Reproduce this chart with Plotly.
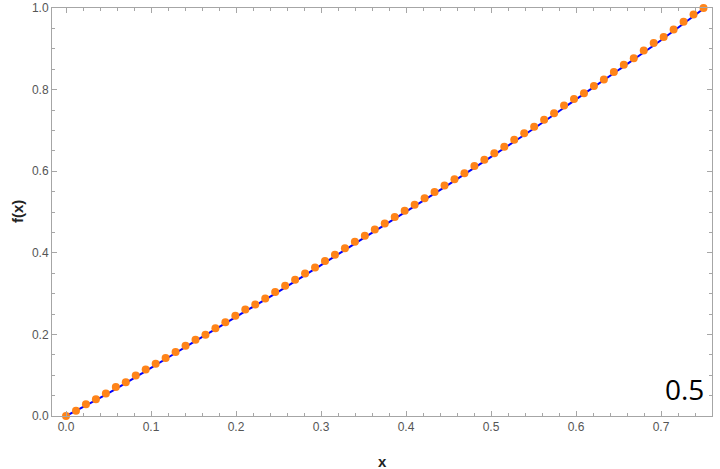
import plotly.graph_objects as go

# sampled points (orange dots)
dot_x = [i * 0.75 / 64 for i in range(65)]
dot_y = [
    0.000, 0.013, 0.029, 0.041, 0.055, 0.071, 0.083, 0.099, 0.114, 0.128,
    0.142, 0.157, 0.172, 0.187, 0.199, 0.215, 0.230, 0.246, 0.261, 0.273,
    0.288, 0.304, 0.319, 0.334, 0.349, 0.364, 0.380, 0.395, 0.411, 0.427,
    0.442, 0.457, 0.472, 0.488, 0.503, 0.518, 0.534, 0.549, 0.565, 0.580,
    0.595, 0.613, 0.628, 0.644, 0.660, 0.677, 0.693, 0.709, 0.726, 0.742,
    0.761, 0.777, 0.791, 0.809, 0.825, 0.843, 0.861, 0.877, 0.896, 0.914,
    0.929, 0.947, 0.966, 0.984, 1.000,
]

# reference curve (blue line)
line_x = [0.00, 0.05, 0.10, 0.15, 0.20, 0.25, 0.30, 0.35,
          0.40, 0.45, 0.50, 0.55, 0.60, 0.65, 0.70, 0.75]
line_y = [0.000, 0.056, 0.118, 0.181, 0.243, 0.305, 0.370, 0.436,
          0.501, 0.567, 0.635, 0.704, 0.776, 0.848, 0.921, 0.998]

label = "0.5"

fig = go.Figure()
fig.add_trace(go.Scatter(
    x=line_x, y=line_y, mode="lines",
    line={"color": "#0000FF", "width": 2, "shape": "spline"},
    cliponaxis=False, showlegend=False,
))
fig.add_trace(go.Scatter(
    x=dot_x, y=dot_y, mode="markers",
    marker={"color": "#FF8419", "size": 8},
    cliponaxis=False, showlegend=False,
))

axis_common = dict(
    showline=True, linecolor="#A6A6A6", linewidth=1, mirror="ticks",
    ticks="inside", ticklen=5, tickcolor="#A6A6A6", tickwidth=1,
    showgrid=False, zeroline=False, automargin=False,
    tickfont={"family": "Liberation Sans, Arial", "size": 12, "color": "#555555"},
)

fig.update_xaxes(
    range=[-0.0165, 0.76], tick0=0, dtick=0.1, tickformat=".1f",
    minor={"ticks": "inside", "ticklen": 3, "dtick": 0.02, "tick0": 0, "tickcolor": "#A6A6A6"},
    **axis_common,
)
fig.update_yaxes(
    range=[0, 1], tick0=0, dtick=0.2, tickformat=".1f",
    minor={"ticks": "inside", "ticklen": 3, "dtick": 0.05, "tick0": 0, "tickcolor": "#A6A6A6"},
    **axis_common,
)

title_font = {"family": "Liberation Sans, Arial", "size": 15, "color": "#222222"}
fig.add_annotation(
    x=0.5, y=0, xref="paper", yref="paper", yanchor="middle", yshift=-45,
    text="<b>x</b>", showarrow=False, font=title_font,
)
fig.add_annotation(
    x=0, y=0.5, xref="paper", yref="paper", xanchor="center", yanchor="middle",
    xshift=-35, yshift=0, text="<b>f(x)</b>", textangle=-90, showarrow=False,
    font=title_font,
)
fig.add_annotation(
    x=1, y=0, xref="paper", yref="paper", xanchor="right", yanchor="bottom",
    xshift=-6, yshift=6, text=label, showarrow=False,
    font={"family": "Open Sans, Arial", "size": 28, "color": "#000000"},
)

fig.update_layout(
    width=720, height=469,
    margin={"l": 52, "r": 8, "t": 8, "b": 53},
    paper_bgcolor="white", plot_bgcolor="white",
)

# the page's default body margin would shift the whole figure by 8px
fig.write_html(
    "out.html",
    config={"displayModeBar": False},
    post_script="document.body.style.margin = '0';",
)
